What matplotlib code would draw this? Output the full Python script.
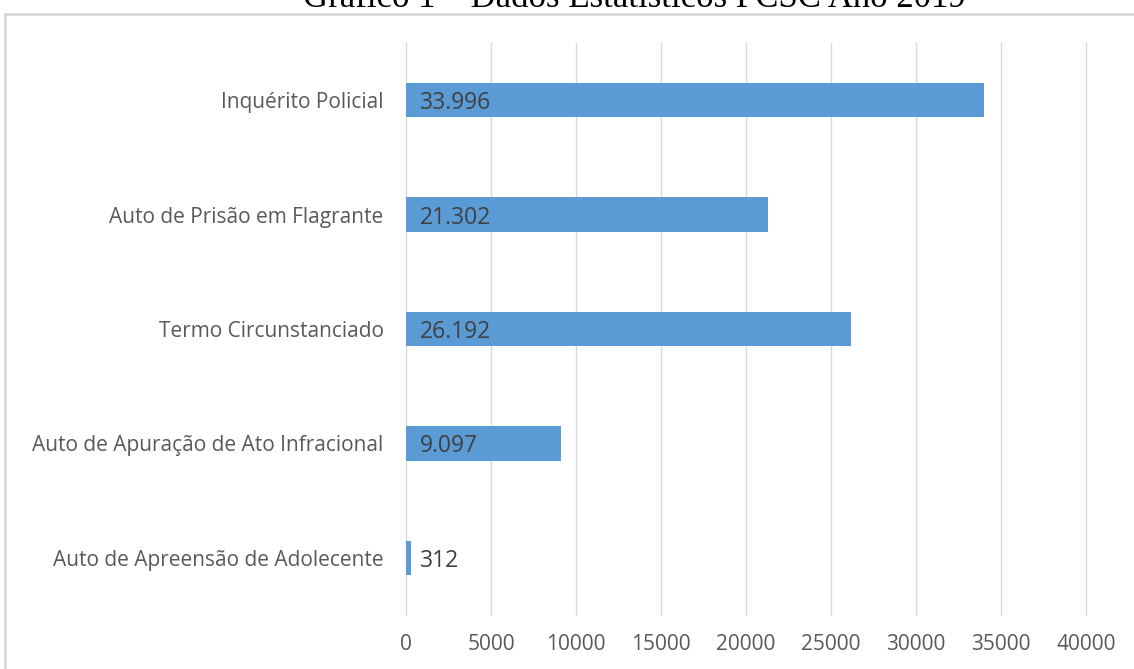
import matplotlib.pyplot as plt
from matplotlib.patches import Rectangle

categories = [
    "Inquérito Policial",
    "Auto de Prisão em Flagrante",
    "Termo Circunstanciado",
    "Auto de Apuração de Ato Infracional",
    "Auto de Apreensão de Adolecente",
]
values = [33996, 21302, 26192, 9097, 312]
value_labels = ["33.996", "21.302", "26.192", "9.097", "312"]
x_ticks = [0, 5000, 10000, 15000, 20000, 25000, 30000, 35000, 40000]

BAR_COLOR = "#5b9bd5"
GRID_COLOR = "#d9d9d9"
TICK_COLOR = "#595959"
LABEL_COLOR = "#404040"

fig = plt.figure(figsize=(11.34, 6.69), dpi=100)
ax = fig.add_axes([0.358, 0.0807, 0.5997, 0.855])

pos = list(range(len(categories)))
ax.barh(pos, values, height=0.3, color=BAR_COLOR, zorder=3)
for p, v, lab in zip(pos, values, value_labels):
    ax.annotate(lab, (0, p), xytext=(10, 0), textcoords="offset points",
                ha="left", va="center_baseline", fontsize=16.5,
                color=LABEL_COLOR, family="Open Sans", zorder=4)

ax.set_ylim(len(categories) - 0.5, -0.5)
ax.set_xlim(0, 40000)
ax.set_yticks(pos)
ax.set_yticklabels(categories, family="Open Sans", fontsize=15, color=TICK_COLOR)
ax.set_xticks(x_ticks)
ax.set_xticklabels([str(t) for t in x_ticks], family="Open Sans",
                   fontsize=15, color=TICK_COLOR)
ax.tick_params(axis="both", length=0)
ax.tick_params(axis="y", pad=16)
ax.tick_params(axis="x", pad=14)
ax.grid(axis="x", color=GRID_COLOR, linewidth=1, zorder=0)
for line in ax.get_xgridlines():
    line.set_clip_on(False)
for s in ax.spines.values():
    s.set_visible(False)

# chart frame, runs off the right and bottom of the picture
fig.patches.append(Rectangle((5 / 1134, -0.05), 1.2, 1 - 13.5 / 669 + 0.05,
                             transform=fig.transFigure, fill=False,
                             edgecolor="#d4d4d4", linewidth=1.8))

fig.text(0.559, 1 - 7 / 669, "Gráfico 1 – Dados Estatísticos PCSC Ano 2019",
         ha="center", va="baseline", family="Liberation Serif", fontsize=25)

fig.savefig("out.png", dpi=100)
